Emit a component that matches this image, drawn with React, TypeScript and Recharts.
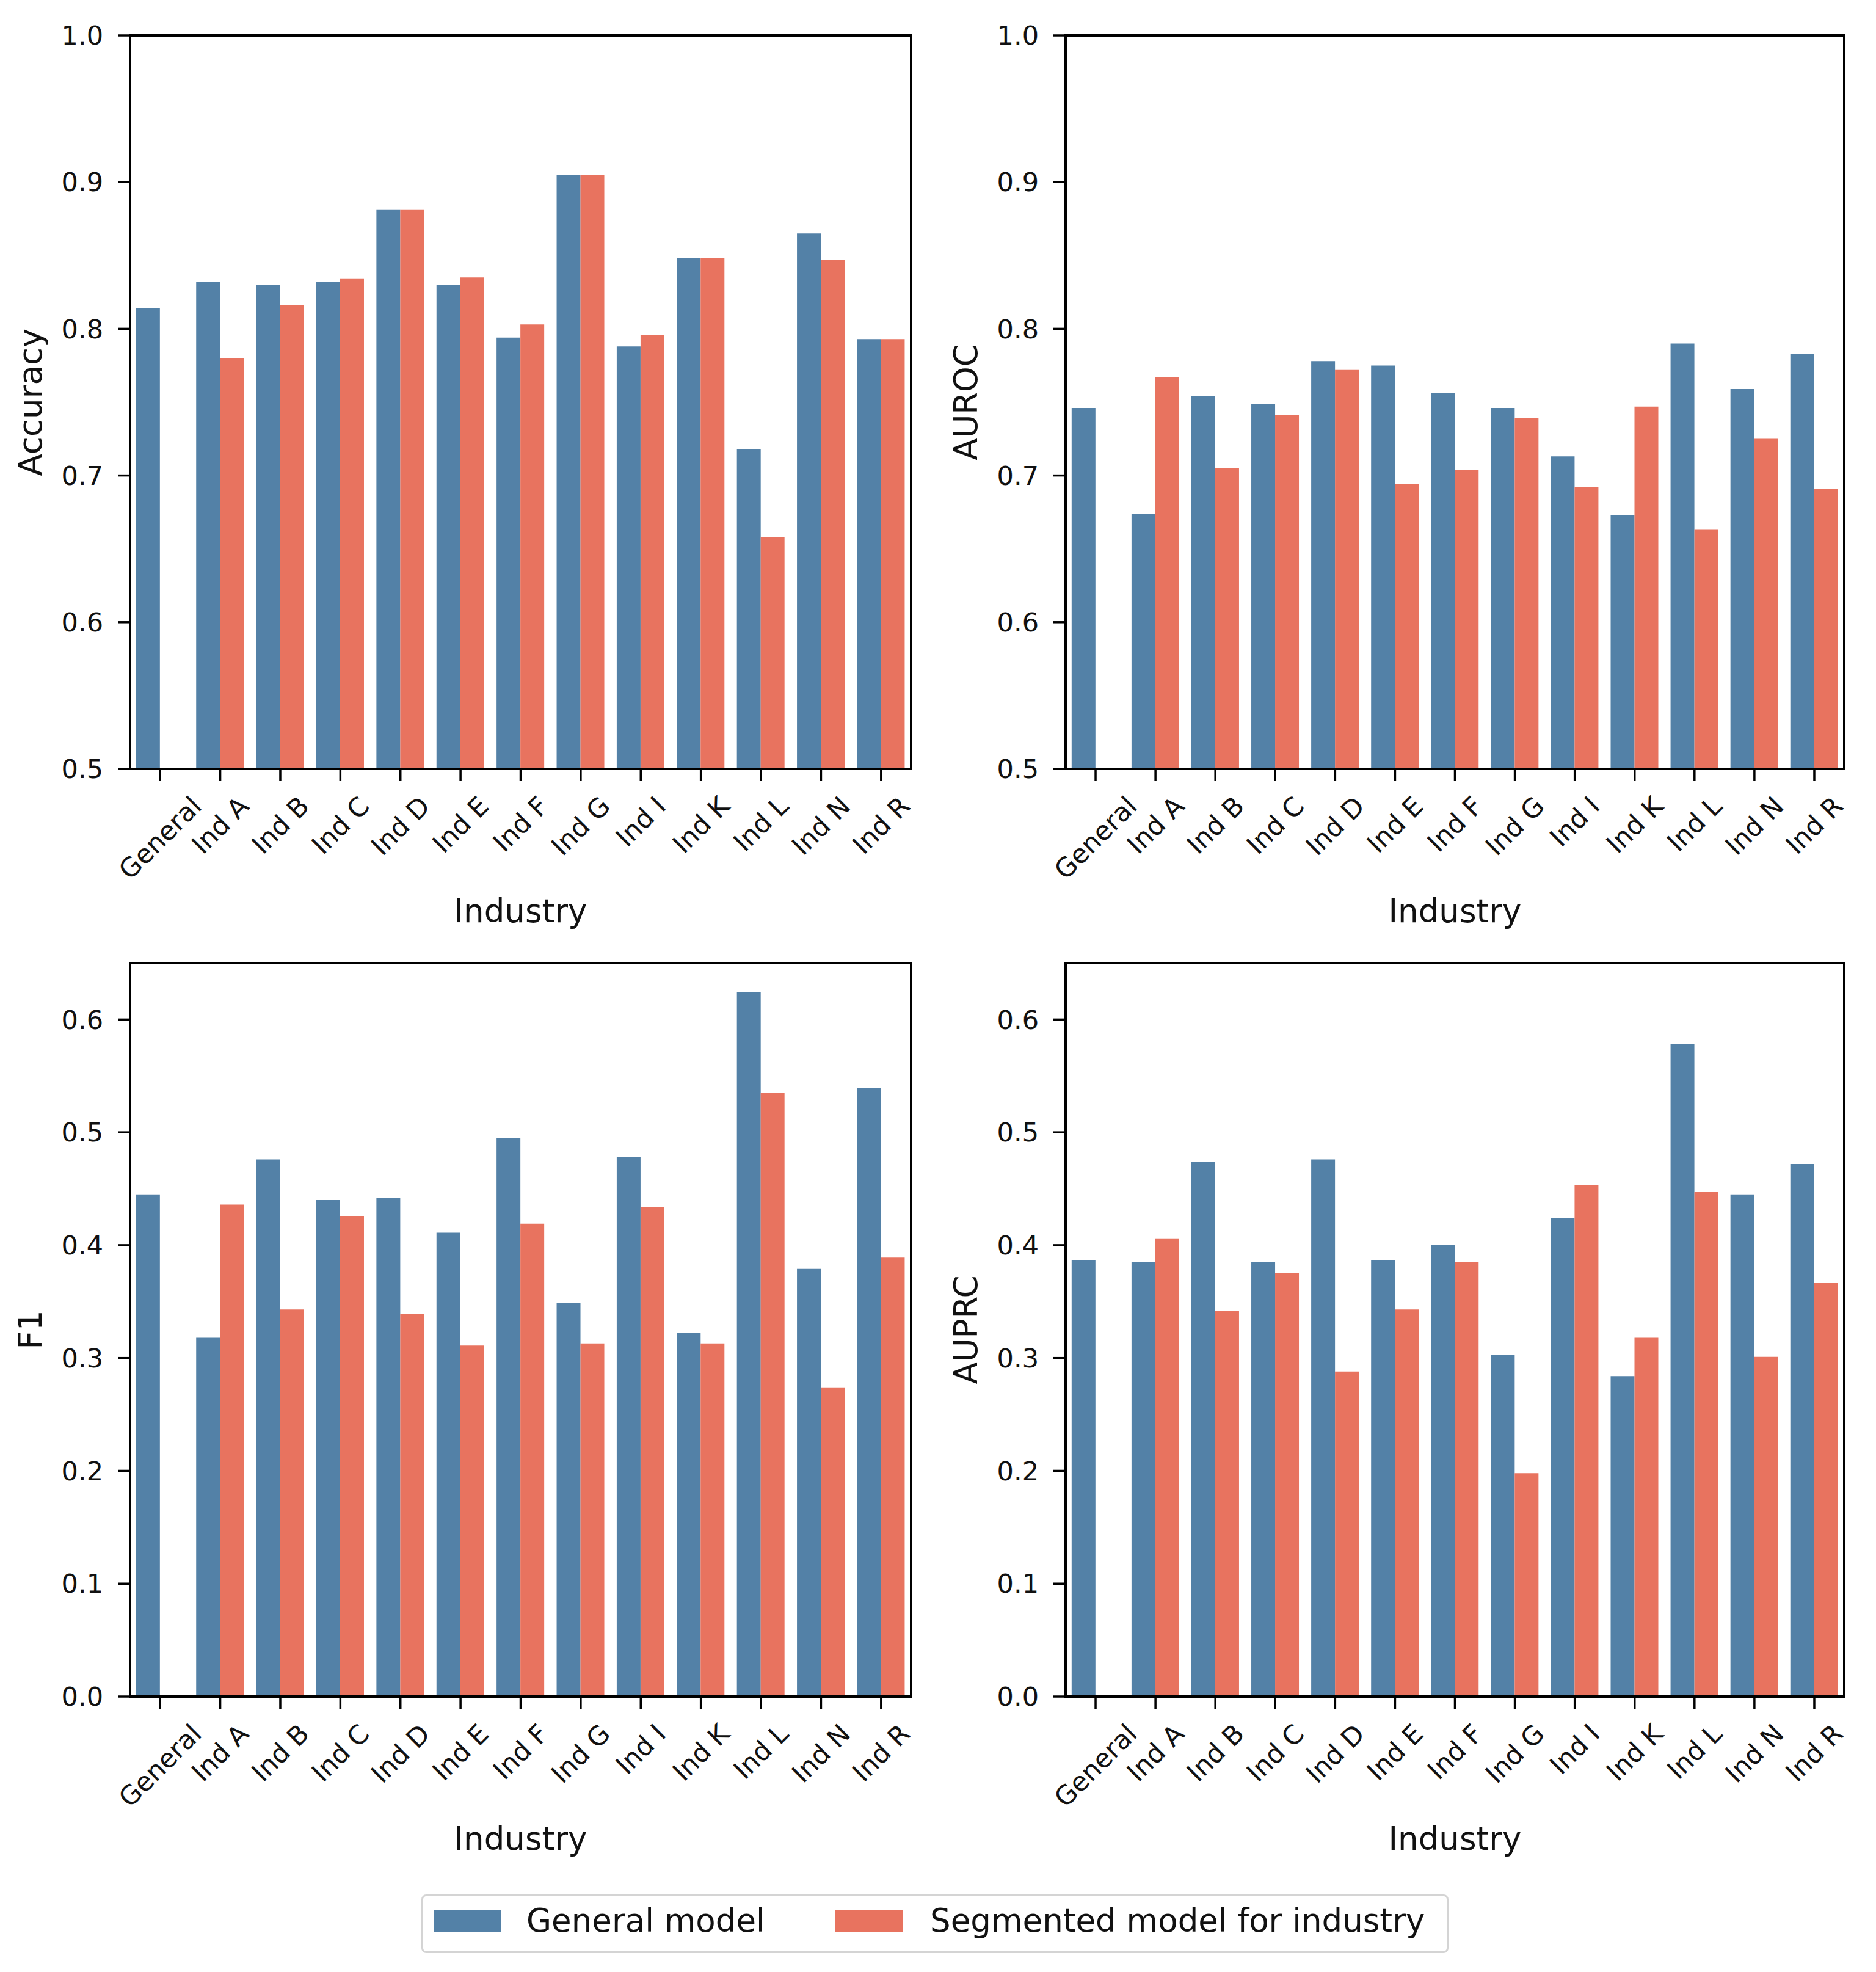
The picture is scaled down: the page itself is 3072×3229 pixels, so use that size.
import { BarChart, Bar, XAxis, YAxis, Label, ReferenceArea } from 'recharts';

const industries = ['General', 'Ind A', 'Ind B', 'Ind C', 'Ind D', 'Ind E', 'Ind F', 'Ind G', 'Ind I', 'Ind K', 'Ind L', 'Ind N', 'Ind R'];

const accuracyGeneral = [0.814, 0.832, 0.830, 0.832, 0.881, 0.830, 0.794, 0.905, 0.788, 0.848, 0.718, 0.865, 0.793];
const accuracySegmented = [null, 0.780, 0.816, 0.834, 0.881, 0.835, 0.803, 0.905, 0.796, 0.848, 0.658, 0.847, 0.793];

const aurocGeneral = [0.746, 0.674, 0.754, 0.749, 0.778, 0.775, 0.756, 0.746, 0.713, 0.673, 0.790, 0.759, 0.783];
const aurocSegmented = [null, 0.767, 0.705, 0.741, 0.772, 0.694, 0.704, 0.739, 0.692, 0.747, 0.663, 0.725, 0.691];

const f1General = [0.445, 0.318, 0.476, 0.440, 0.442, 0.411, 0.495, 0.349, 0.478, 0.322, 0.624, 0.379, 0.539];
const f1Segmented = [null, 0.436, 0.343, 0.426, 0.339, 0.311, 0.419, 0.313, 0.434, 0.313, 0.535, 0.274, 0.389];

const auprcGeneral = [0.387, 0.385, 0.474, 0.385, 0.476, 0.387, 0.400, 0.303, 0.424, 0.284, 0.578, 0.445, 0.472];
const auprcSegmented = [null, 0.406, 0.342, 0.375, 0.288, 0.343, 0.385, 0.198, 0.453, 0.318, 0.447, 0.301, 0.367];

const topTicks = [0.5, 0.6, 0.7, 0.8, 0.9, 1.0];
const bottomTicks = [0, 0.1, 0.2, 0.3, 0.4, 0.5, 0.6];

const seriesNames = ['General model', 'Segmented model for industry'];
const BLUE = '#5381a7';
const RED = '#e8735f';
const FONT = 'DejaVu Sans';
const TICK_FS = 43;
const LABEL_FS = 53;

// rough DejaVu Sans advance widths (em) for the label glyphs
const glyphW: Record<string, number> = {
  G: 0.775, e: 0.615, n: 0.634, r: 0.411, a: 0.613, l: 0.278, I: 0.295, d: 0.635, ' ': 0.318,
  A: 0.684, B: 0.686, C: 0.698, D: 0.77, E: 0.632, F: 0.575, K: 0.656, L: 0.557, N: 0.748, R: 0.695,
};
const textW = (s: string) => s.split('').reduce((t, c) => t + (glyphW[c] ?? 0.6), 0);

function IndustryTick({ x, y, payload }: any) {
  const label = String(payload.value);
  const len = textW(label) * TICK_FS;
  const boxH = (len + 0.73 * TICK_FS) * Math.SQRT1_2;
  const cy = y + 22 + boxH / 2;
  return (
    <text x={x} y={cy} textAnchor="middle" dominantBaseline="central" fontSize={TICK_FS}
      fontFamily={FONT} fill="#111" transform={`rotate(-45 ${x} ${cy})`}>
      {label}
    </text>
  );
}

interface PanelProps {
  left: number; top: number; width: number; height: number;
  plot: { x0: number; x1: number; y0: number; y1: number };
  domain: [number, number];
  ticks: number[];
  yLabel: string;
  general: (number | null)[];
  segmented: (number | null)[];
}

function Panel({ left, top, width, height, plot, domain, ticks, yLabel, general, segmented }: PanelProps) {
  const data = industries.map((name, i) => ({ name, general: general[i], segmented: segmented[i] }));
  const yAxisW = plot.x0 - left;
  const xAxisH = top + height - plot.y1;
  return (
    <div style={{ position: 'absolute', left, top }}>
      <BarChart width={width} height={height} data={data} barCategoryGap="10%" barGap={0}
        margin={{ top: plot.y0 - top, right: left + width - plot.x1, bottom: 0, left: 0 }}>
        <XAxis dataKey="name" height={xAxisH} tickSize={20} tickMargin={0} interval={0}
          axisLine={{ stroke: '#000', strokeWidth: 4 }} tickLine={{ stroke: '#000', strokeWidth: 3.5 }}
          tick={<IndustryTick />}>
          <Label content={({ viewBox }: any) => (
            <text x={viewBox.x + viewBox.width / 2} y={viewBox.y + 251} textAnchor="middle"
              fontSize={LABEL_FS} fontFamily={FONT} fill="#111">Industry</text>
          )} />
        </XAxis>
        <YAxis width={yAxisW} domain={domain} ticks={ticks} type="number" allowDataOverflow
          tickSize={20} tickMargin={24} tickFormatter={(v: number) => v.toFixed(1)}
          axisLine={{ stroke: '#000', strokeWidth: 4 }} tickLine={{ stroke: '#000', strokeWidth: 3.5 }}
          tick={{ fontSize: TICK_FS, fontFamily: FONT, fill: '#111' }}>
          <Label content={({ viewBox }: any) => {
            const bx = viewBox.x + viewBox.width - 145;
            const cy = viewBox.y + viewBox.height / 2;
            return (
              <text x={bx} y={cy} textAnchor="middle" fontSize={LABEL_FS} fontFamily={FONT} fill="#111"
                transform={`rotate(-90 ${bx} ${cy})`}>{yLabel}</text>
            );
          }} />
        </YAxis>
        <Bar dataKey="general" name={seriesNames[0]} fill={BLUE} isAnimationActive={false} />
        <Bar dataKey="segmented" name={seriesNames[1]} fill={RED} isAnimationActive={false} />
        <ReferenceArea y1={domain[0]} y2={domain[1]} fill="none" fillOpacity={0} stroke="#000"
          strokeWidth={4} strokeOpacity={1} ifOverflow="visible" />
      </BarChart>
    </div>
  );
}

export default function App() {
  return (
    <div style={{ position: 'absolute', left: 0, top: 0, width: 3072, height: 3229, background: '#fff', fontFamily: FONT }}>
      <Panel left={0} top={0} width={1536} height={1540} plot={{ x0: 213, x1: 1492, y0: 58, y1: 1259 }}
        domain={[0.5, 1.0]} ticks={topTicks} yLabel="Accuracy" general={accuracyGeneral} segmented={accuracySegmented} />
      <Panel left={1536} top={0} width={1536} height={1540} plot={{ x0: 1745, x1: 3020, y0: 58, y1: 1259 }}
        domain={[0.5, 1.0]} ticks={topTicks} yLabel="AUROC" general={aurocGeneral} segmented={aurocSegmented} />
      <Panel left={0} top={1540} width={1536} height={1540} plot={{ x0: 213, x1: 1492, y0: 1577, y1: 2778 }}
        domain={[0, 0.65]} ticks={bottomTicks} yLabel="F1" general={f1General} segmented={f1Segmented} />
      <Panel left={1536} top={1540} width={1536} height={1540} plot={{ x0: 1745, x1: 3020, y0: 1577, y1: 2778 }}
        domain={[0, 0.65]} ticks={bottomTicks} yLabel="AUPRC" general={auprcGeneral} segmented={auprcSegmented} />
      <div style={{ position: 'absolute', left: 690, top: 3102, width: 1682, height: 96, boxSizing: 'border-box',
        border: '3px solid #d4d4d4', borderRadius: 8, background: '#fff' }}>
        {seriesNames.map((name, i) => (
          <div key={name}>
            <div style={{ position: 'absolute', left: i === 0 ? 17 : 675, top: 23, width: 110, height: 35,
              background: i === 0 ? BLUE : RED }} />
            <div style={{ position: 'absolute', left: i === 0 ? 169 : 830, top: 10, height: 60, lineHeight: '60px',
              fontSize: LABEL_FS, color: '#111', whiteSpace: 'nowrap' }}>{name}</div>
          </div>
        ))}
      </div>
    </div>
  );
}
